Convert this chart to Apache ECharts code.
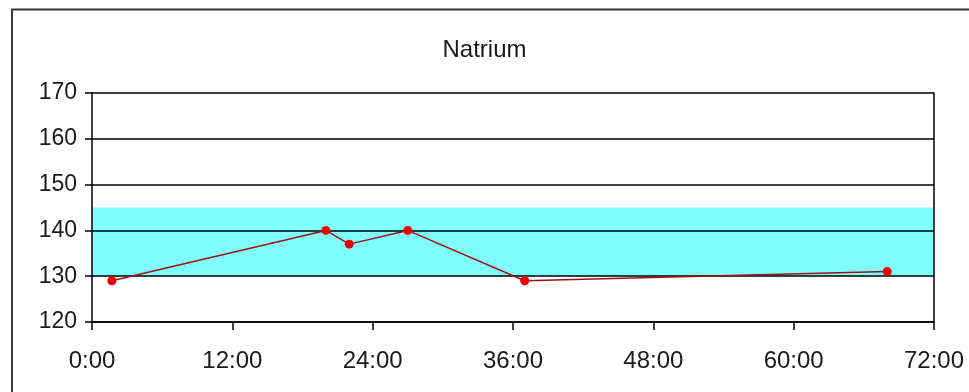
<!DOCTYPE html>
<html>
<head>
<meta charset="utf-8">
<script src="https://cdn.jsdelivr.net/npm/echarts@6/dist/echarts.min.js"></script>
<style>
html,body{margin:0;padding:0;background:#fff;}
#c{width:969px;height:392px;}
</style>
</head>
<body>
<div id="c"></div>
<script>
// Data
const titleText = 'Natrium';
const hours = [1.7, 20, 22, 27, 37, 68];
const sodium = [129, 140, 137, 140, 129, 131];
const normalLow = 130;
const normalHigh = 145;
const yMin = 120, yMax = 170, yStep = 10;
const xMin = 0, xMax = 72, xStep = 12;

const font = "'Liberation Sans', Arial, sans-serif";
const chart = echarts.init(document.getElementById('c'));
chart.setOption({
  animation: false,
  backgroundColor: '#ffffff',
  title: {
    text: titleText,
    left: 'center',
    top: 33,
    textStyle: {fontFamily: font, fontSize: 24, fontWeight: 'normal', color: '#1a1a1a'}
  },
  graphic: [{
    type: 'rect',
    z: -10,
    shape: {x: 12, y: 9.5, width: 1000, height: 500},
    style: {fill: 'rgba(0,0,0,0)', stroke: '#3a3a3a', lineWidth: 2},
    silent: true
  }],
  grid: {left: 92, right: 35, top: 93, bottom: 70},
  xAxis: {
    type: 'value',
    min: xMin, max: xMax, interval: xStep,
    axisLine: {show: true, onZero: false, lineStyle: {color: '#000', width: 1.5}},
    axisTick: {show: true, length: 8, lineStyle: {color: '#000', width: 1.5}},
    splitLine: {show: false},
    axisLabel: {
      margin: 27,
      fontFamily: font, fontSize: 24, color: '#1a1a1a',
      formatter: v => v + ':00'
    }
  },
  yAxis: [{
    type: 'value',
    min: yMin, max: yMax, interval: yStep,
    axisLine: {show: true, lineStyle: {color: '#000', width: 1.5}},
    axisTick: {show: true, length: 7, lineStyle: {color: '#000', width: 1.5}},
    splitLine: {show: true, lineStyle: {color: '#000', width: 1.5}},
    axisLabel: {margin: 15, fontFamily: font, fontSize: 23, color: '#1a1a1a'}
  }, {
    type: 'value',
    position: 'right',
    min: yMin, max: yMax, interval: yStep,
    axisLine: {show: true, lineStyle: {color: '#000', width: 1.5}},
    axisTick: {show: false},
    axisLabel: {show: false},
    splitLine: {show: false}
  }],
  series: [{
    type: 'line',
    z: -1,
    data: [],
    silent: true,
    markArea: {
      z: -1,
      silent: true,
      itemStyle: {color: '#80ffff', opacity: 1},
      data: [[{yAxis: normalLow}, {yAxis: normalHigh}]]
    }
  }, {
    type: 'line',
    z: 3,
    data: hours.map((h, i) => [h, sodium[i]]),
    symbol: 'circle',
    symbolSize: 9,
    itemStyle: {color: '#ee0000'},
    lineStyle: {color: '#a01010', width: 1.5}
  }]
});
</script>
</body>
</html>
